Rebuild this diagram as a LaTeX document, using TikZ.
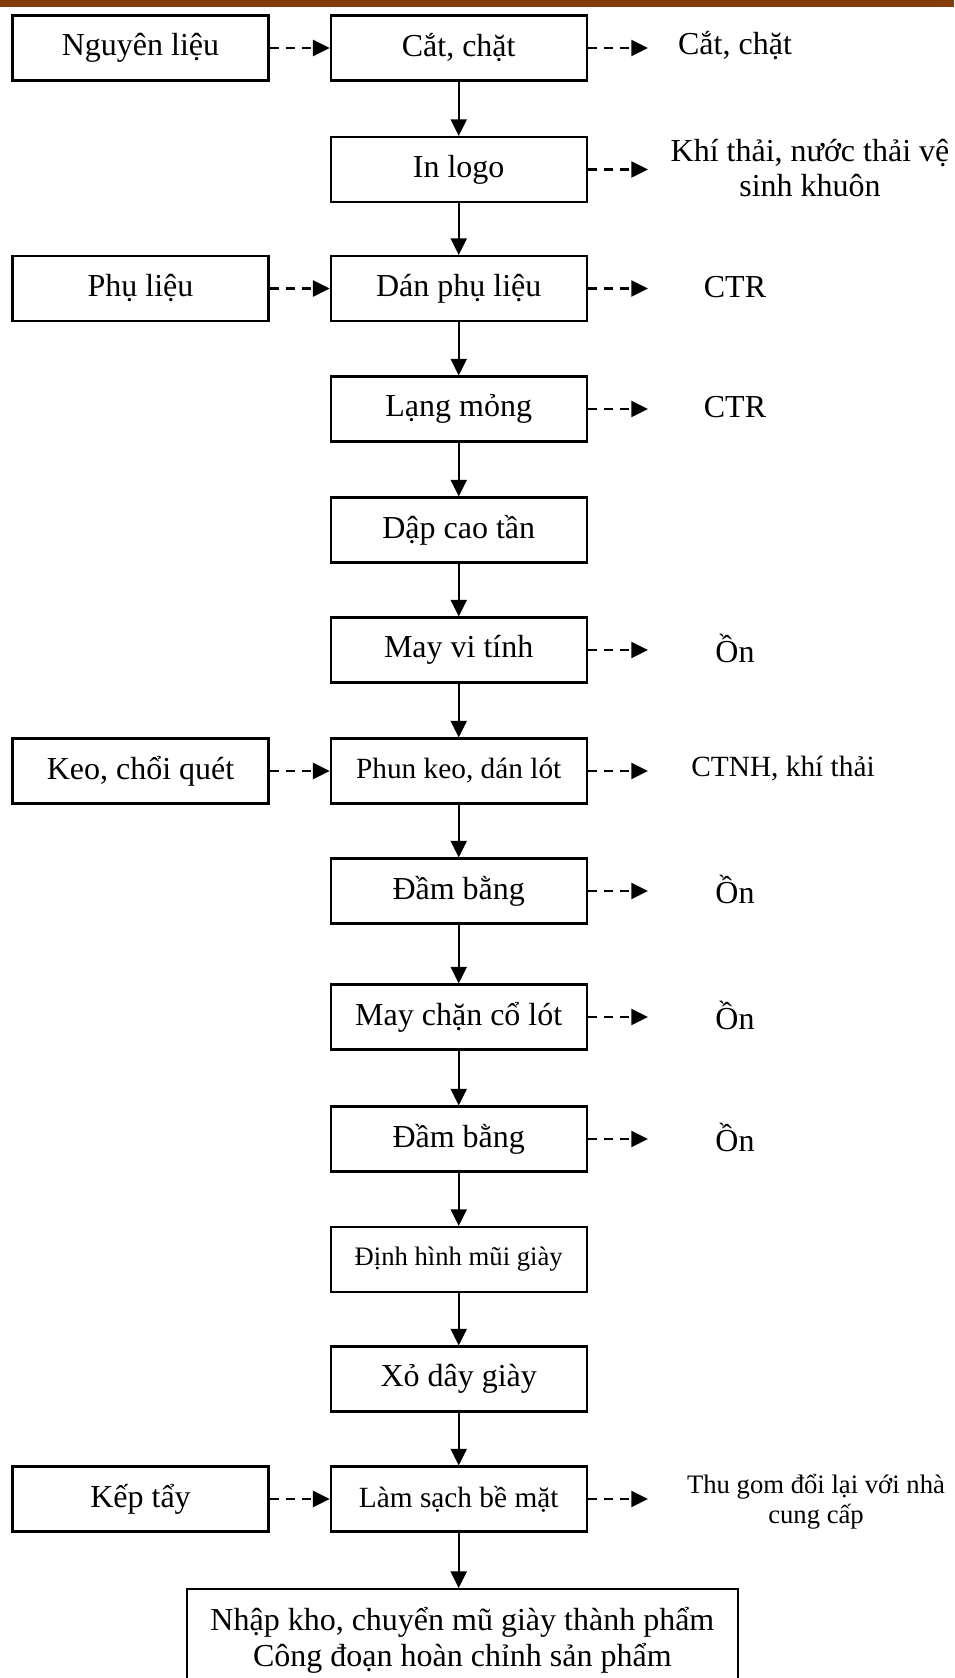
\documentclass[tikz,border=0pt]{standalone}
\usepackage{fontspec}
\setmainfont{Liberation Serif}
\usetikzlibrary{arrows.meta}
\definecolor{barbrown}{RGB}{132,60,12}
\begin{document}
\begin{tikzpicture}[x=0.75pt,y=-0.75pt,
  box/.style={draw, line width=1.6pt, minimum width=192pt, minimum height=48.75pt,
    inner sep=0pt, align=center, font=\fontsize{24}{27}\selectfont},
  smallbox/.style={box, font=\fontsize{22}{25}\selectfont},
  tinybox/.style={box, font=\fontsize{20}{23}\selectfont},
  note/.style={inner sep=0pt, align=center, font=\fontsize{24}{27}\selectfont},
  flow/.style={line width=1.6pt, -{Triangle[length=12.5pt,width=12pt]}},
  side/.style={flow, dash pattern=on 7pt off 5pt},
]
\clip (0,0) rectangle (954,1678);
\fill[white] (0,0) rectangle (954,1678);
\fill[barbrown] (0,0) rectangle (954,7);

% main process column
\node[box] (cut)  at (458.7,48)    {Cắt, chặt};
\node[box] (logo) at (458.7,169.5) {In logo};
\node[box] (glue) at (458.7,288.5) {Dán phụ liệu};
\node[box] (thin) at (458.7,409)   {Lạng mỏng};
\node[box] (hf)   at (458.7,530)   {Dập cao tần};
\node[box] (sew)  at (458.7,650)   {May vi tính};
\node[smallbox] (spray) at (458.7,771) {Phun keo, dán lót};
\node[box] (flat1) at (458.7,891)  {Đầm bằng};
\node[box] (coll)  at (458.7,1017) {May chặn cổ lót};
\node[box] (flat2) at (458.7,1139) {Đầm bằng};
\node[tinybox] (shape) at (458.7,1259.5) {Định hình mũi giày};
\node[box] (lace)  at (458.7,1379) {Xỏ dây giày};
\node[smallbox] (clean) at (458.7,1499) {Làm sạch bề mặt};
\node[box, anchor=north, minimum width=413pt, minimum height=76.5pt,
  font=\fontsize{24}{27}\selectfont] (fin) at (462.4,1588)
  {Nhập kho, chuyển mũ giày thành phẩm\\Công đoạn hoàn chỉnh sản phẩm};

% inputs
\node[box] (raw)  at (140.5,48)    {Nguyên liệu};
\node[box] (acc)  at (140.5,288.5) {Phụ liệu};
\node[box] (brush) at (140.5,771)  {Keo, chổi quét};
\node[box] (rub)  at (140.5,1499)  {Kếp tẩy};

% outputs
\node[note] (o1) at (735,46) {Cắt, chặt};
\node[note, font=\fontsize{24}{26}\selectfont] (o2) at (810,168) {Khí thải, nước thải vệ\\sinh khuôn};
\node[note] (o3) at (735,287) {CTR};
\node[note] (o4) at (735,407) {CTR};
\node[note] (o6) at (735,648) {Ồn};
\node[note, font=\fontsize{22}{25}\selectfont] (o7) at (783,769) {CTNH, khí thải};
\node[note] (o8) at (735,889) {Ồn};
\node[note] (o9) at (735,1015) {Ồn};
\node[note] (o10) at (735,1137) {Ồn};
\node[note, font=\fontsize{20}{22.5}\selectfont] (o13) at (816,1502) {Thu gom đổi lại với nhà\\cung cấp};

% arrow ends on the output side
\foreach \n/\y in {1/48,2/169.5,3/288.5,4/409,6/650,7/771,8/891,9/1017,10/1139,13/1499}
  \coordinate (e\n) at (648,\y);

% main flow
\draw[flow] (cut) -- (logo);
\draw[flow] (logo) -- (glue);
\draw[flow] (glue) -- (thin);
\draw[flow] (thin) -- (hf);
\draw[flow] (hf) -- (sew);
\draw[flow] (sew) -- (spray);
\draw[flow] (spray) -- (flat1);
\draw[flow] (flat1) -- (coll);
\draw[flow] (coll) -- (flat2);
\draw[flow] (flat2) -- (shape);
\draw[flow] (shape) -- (lace);
\draw[flow] (lace) -- (clean);
\draw[flow] (clean) -- (clean |- fin.north);

% inputs
\draw[side] (raw) -- (cut);
\draw[side] (acc) -- (glue);
\draw[side] (brush) -- (spray);
\draw[side] (rub) -- (clean);

% outputs
\draw[side] (cut.east) -- (e1);
\draw[side] (logo.east) -- (e2);
\draw[side] (glue.east) -- (e3);
\draw[side] (thin.east) -- (e4);
\draw[side] (sew.east) -- (e6);
\draw[side] (spray.east) -- (e7);
\draw[side] (flat1.east) -- (e8);
\draw[side] (coll.east) -- (e9);
\draw[side] (flat2.east) -- (e10);
\draw[side] (clean.east) -- (e13);
\end{tikzpicture}
\end{document}
